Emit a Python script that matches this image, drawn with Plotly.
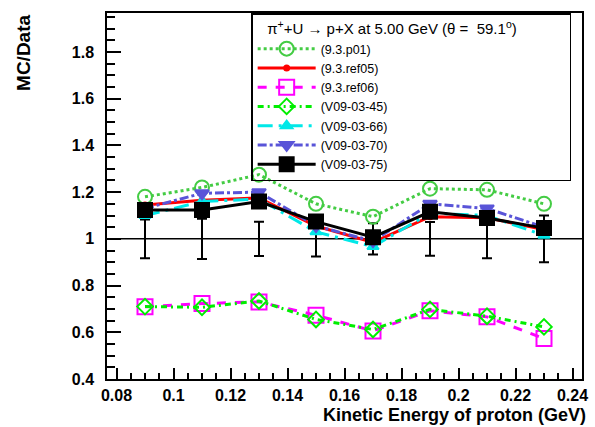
import plotly.graph_objects as go

# ---- data ----
energy = [0.09, 0.11, 0.13, 0.15, 0.17, 0.19, 0.21, 0.23]
data_ratio = [1, 1, 1, 1, 1, 1, 1, 1]
data_err = [0.083, 0.086, 0.073, 0.076, 0.067, 0.072, 0.083, 0.10]

p01 = [1.18, 1.22, 1.275, 1.15, 1.095, 1.215, 1.21, 1.15]
ref05 = [1.145, 1.165, 1.175, 1.055, 0.985, 1.095, 1.09, 1.04]
ref06 = [0.709, 0.723, 0.73, 0.673, 0.606, 0.692, 0.666, 0.573]
v45 = [0.71, 0.707, 0.734, 0.655, 0.612, 0.698, 0.669, 0.623]
v66 = [1.10, 1.16, 1.17, 1.03, 0.967, 1.11, 1.10, 1.015]
v70 = [1.13, 1.195, 1.20, 1.055, 0.99, 1.15, 1.13, 1.05]
v75 = [1.124, 1.124, 1.16, 1.074, 1.007, 1.116, 1.089, 1.046]

series_names = ["(9.3.p01)", "(9.3.ref05)", "(9.3.ref06)", "(V09-03-45)",
                "(V09-03-66)", "(V09-03-70)", "(V09-03-75)"]
series_values = [p01, ref05, ref06, v45, v66, v70, v75]
series_colors = ["#44cc44", "#ff0000", "#ff00ff", "#00ee00",
                 "#00e8e8", "#5954d8", "#000000"]
series_dash = ["dot", "solid", "dash", "6px,4px,2px,4px",
               "longdashdot", "dashdot", "solid"]
series_symbols = ["circle-open", "circle", "square-open", "diamond-open",
                  "triangle-up", "triangle-down", "square"]
series_sizes = [14, 5, 15, 12, 10, 12, 14]

x_range = [0.08 - 0.01 / 3, 0.24 + 0.01 / 3]
y_range = [0.4, 1.967]

FONT = "Liberation Sans, Arial, sans-serif"

fig = go.Figure()

# data reference (ratio = 1) with its relative errors
fig.add_trace(go.Scatter(
    x=energy, y=data_ratio, mode="markers",
    marker=dict(size=1, color="black", opacity=0),
    error_y=dict(type="data", array=data_err, color="black",
                 thickness=2, width=5),
    showlegend=False, hoverinfo="skip",
))

for name, vals, col, dash, sym, sz in zip(series_names, series_values,
                                          series_colors, series_dash,
                                          series_symbols, series_sizes):
    fig.add_trace(go.Scatter(
        x=energy, y=vals, mode="lines+markers", name=name,
        line=dict(color=col, width=3, dash=dash),
        marker=dict(symbol=sym, size=sz, color=col,
                    line=dict(color=col, width=2)),
    ))

fig.add_shape(type="line", xref="paper", yref="y", x0=0, x1=1, y0=1, y1=1,
              line=dict(color="black", width=1.5), layer="below")

tickfont = dict(family=FONT, size=16, color="black", weight="bold")

fig.update_xaxes(
    range=x_range, dtick=0.02, tick0=0.08, ticks="inside", ticklen=11,
    tickwidth=1.5, tickcolor="black", showline=True, linecolor="black",
    linewidth=1.5, mirror=True, showgrid=False, zeroline=False,
    tickfont=tickfont, ticklabelstandoff=1,
    minor=dict(dtick=0.005, ticks="inside", ticklen=6, tickcolor="black",
               tickwidth=1.5, showgrid=False),
)
fig.update_yaxes(
    range=y_range, dtick=0.2, tick0=0.4, ticks="inside", ticklen=14,
    tickwidth=1.5, tickcolor="black", showline=True, linecolor="black",
    linewidth=1.5, mirror=True, showgrid=False, zeroline=False,
    tickfont=tickfont, ticklabelstandoff=8,
    minor=dict(dtick=0.05, ticks="inside", ticklen=8, tickcolor="black",
               tickwidth=1.5, showgrid=False),
)

fig.add_annotation(text="MC/Data", xref="paper", yref="paper",
                   x=-0.177, y=1.0, xanchor="center", yanchor="top",
                   textangle=-90, showarrow=False,
                   font=dict(family=FONT, size=19, color="black",
                             weight="bold"))
fig.add_annotation(text="Kinetic Energy of proton (GeV)", xref="paper",
                   yref="paper", x=1.012, y=-0.066, xanchor="right",
                   yanchor="top", showarrow=False,
                   font=dict(family=FONT, size=18, color="black",
                             weight="bold"))

pad = "\u00a0"
fig.update_layout(
    width=595, height=427,
    margin=dict(l=107, r=7, t=13, b=48),
    paper_bgcolor="white", plot_bgcolor="white",
    showlegend=True,
    legend=dict(
        x=0.3035, y=1.0, xanchor="left", yanchor="top",
        bgcolor="rgba(255,255,255,0)", bordercolor="black", borderwidth=1.5,
        font=dict(family=FONT, size=12.5, color="black"),
        title=dict(text=pad * 3 + "π<sup>+</sup>+U → p+X at 5.00 GeV (θ =" + pad * 2
                        + "59.1<sup>o</sup>)" + pad * 12,
                   font=dict(family=FONT, size=15, color="black")),
        itemwidth=58, tracegroupgap=0,
    ),
)

fig.write_html("out.html")
